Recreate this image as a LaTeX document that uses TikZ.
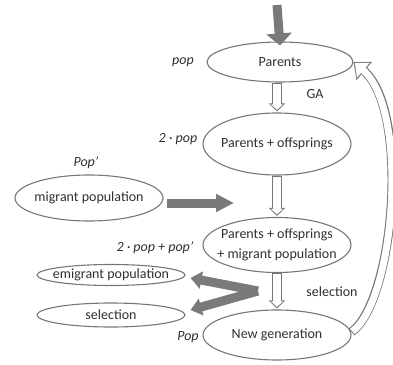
\documentclass[tikz,border=0pt]{standalone}
\usepackage{fontspec}
\setmainfont{Carlito}
\usetikzlibrary{positioning, arrows.meta, shapes.geometric, calc}
\definecolor{edgegray}{HTML}{767676}
\definecolor{fatgray}{HTML}{7A7A7A}
\definecolor{txtgray}{HTML}{303030}

\begin{document}
\begin{tikzpicture}[
      x=1pt, y=-1pt,
      every node/.style={font=\fontsize{14}{16}\selectfont, text=txtgray},
      popnode/.style={draw=edgegray, line width=1.1pt, ellipse, inner xsep=-10pt,
                      inner ysep=0pt, minimum width=148pt, align=center},
      lbl/.style={font=\fontsize{14}{16}\selectfont\itshape},
      hollow/.style={draw=white, line width=8pt, shorten <=1pt, shorten >=1.6pt,
                     -{Triangle[length=5.5pt, width=12pt]},
                     preaction={draw=edgegray, line width=10pt, shorten <=0pt, shorten >=0pt,
                                -{Triangle[length=8pt, width=16pt]}}},
      hollowback/.style={draw=white, line width=7pt, shorten <=1pt, shorten >=1.8pt,
                     -{Triangle[length=11pt, width=19pt]},
                     preaction={draw=edgegray, line width=9pt, shorten <=0pt, shorten >=0pt,
                                -{Triangle[length=14pt, width=23pt]}}},
      fat/.style={draw=fatgray, line width=9pt, -{Triangle[length=11pt, width=17pt]}},
    ]
    \useasboundingbox (0,0) rectangle (393,364);

    % population pools
    \node[popnode, minimum width=146pt, minimum height=40pt] (par) at (280,62) {Parents};
    \node[popnode, minimum height=62pt] (po) at (277,144) {Parents + offsprings};
    \node[popnode, minimum height=55pt, font=\fontsize{14}{20}\selectfont] (pom) at (277,245)
      {Parents + offsprings\\+ migrant population};
    \node[popnode, minimum height=50pt] (ng) at (277,335) {New generation};
    \node[popnode, minimum height=46pt] (mig) at (89,198) {migrant population};
    \node[popnode, minimum height=21pt] (emi) at (111,275) {emigrant population};
    \node[popnode, minimum height=24pt] (sel) at (111,315) {selection};

    % sizes
    \node[lbl] (lpop) at (183,62) {pop};
    \node[lbl] (l2pop) at (178,139) {2 · pop};
    \node[lbl] (lmig) at (86,163) {Pop’};
    \node[lbl] (lpom) at (155,248) {2 · pop + pop’};
    \node[lbl] (lng) at (188,337) {Pop};

    \node (ga) at (315,94) {GA};
    \node (lsel) at (332,292) {selection};

    % flow
    \coordinate (top) at (277,5);
    \draw[fat, -{Triangle[length=12pt, width=25pt]}] (top) -- ([yshift=-4pt]par.north);
    \draw[hollow] (po.north |- par.south) -- ([yshift=1pt]po.north);
    \draw[hollow] (po) -- ([yshift=1pt]pom.north);
    \draw[hollow] (pom) -- ([yshift=1pt]ng.north);

    \coordinate (m1) at (167,203);
    \coordinate (m2) at (234,203);
    \draw[fat, -{Triangle[length=18pt, width=17pt]}] (m1) -- (m2);

    \coordinate (vx) at (258,291);
    \draw[fat] (vx) -- ($(emi.east)+(5,3)$);
    \draw[fat] (vx) -- ($(sel.east)+(5,-5)$);

    \draw[hollowback] ([yshift=3pt]ng.east) .. controls (395,300) and (410,110) .. (par.east);
  \end{tikzpicture}
\end{document}
